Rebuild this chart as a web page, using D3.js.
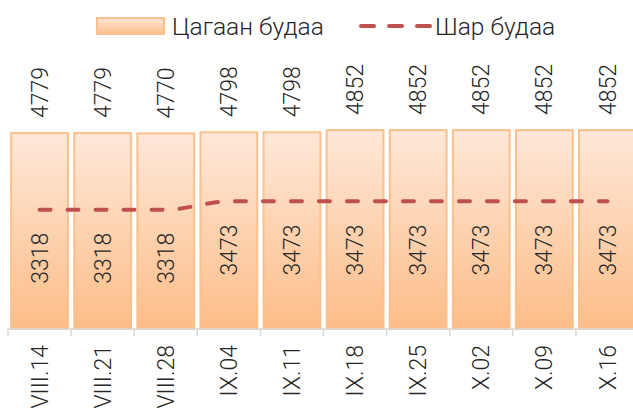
<!DOCTYPE html>
<html>
<head>
  <meta charset="UTF-8">
  <title>Цагаан будаа / Шар будаа</title>
  <style>
    body {
      margin: 0;
      background: #fff;
      overflow: hidden;
    }
    text {
      font-family: Roboto, sans-serif;
      font-weight: 300;
      fill: #262626;
    }
  </style>
</head>
<body>

<svg id="chart"></svg>

<script src="https://d3js.org/d3.v7.min.js"></script>
<script>
const width = 633;
const height = 410;

const categories = ["VIII.14", "VIII.21", "VIII.28", "IX.04", "IX.11", "IX.18", "IX.25", "X.02", "X.09", "X.16"];
const whiteRice = [4779, 4779, 4770, 4798, 4798, 4852, 4852, 4852, 4852, 4852];
const yellowRice = [3318, 3318, 3318, 3473, 3473, 3473, 3473, 3473, 3473, 3473];

const baseY = 329;

const svg = d3.select("#chart")
  .attr("width", width)
  .attr("height", height);

const defs = svg.append("defs");
const grad = defs.append("linearGradient")
  .attr("id", "barFill")
  .attr("x1", 0).attr("y1", 0).attr("x2", 0).attr("y2", 1);
grad.append("stop").attr("offset", "0%").attr("stop-color", "#fee8d9");
grad.append("stop").attr("offset", "100%").attr("stop-color", "#fcbd88");

const x = d3.scaleBand()
  .domain(categories)
  .range([8, 639])
  .paddingInner(0.1)
  .paddingOuter(0.05);

const y = d3.scaleLinear()
  .domain([0, 5000])
  .range([baseY, 124]);

// hidden secondary axis for the line series
const y2 = d3.scaleLinear()
  .domain([1100, 4800])
  .range([baseY, 130]);

// bars
svg.append("g")
  .selectAll("rect")
  .data(whiteRice)
  .join("rect")
  .attr("x", (d, i) => x(categories[i]))
  .attr("y", d => y(d))
  .attr("width", x.bandwidth())
  .attr("height", d => baseY - y(d))
  .attr("fill", "url(#barFill)")
  .attr("stroke", "#fcc08c")
  .attr("stroke-width", 2);

// bar value labels
svg.append("g")
  .selectAll("text")
  .data(whiteRice)
  .join("text")
  .attr("transform", (d, i) => `translate(${x(categories[i]) + x.bandwidth() / 2},${y(d) - 15}) rotate(-90)`)
  .attr("dy", "0.35em")
  .attr("text-anchor", "start")
  .style("font-size", "23px")
  .text(d => d);

// x axis
const xAxis = svg.append("g")
  .attr("transform", `translate(0,${baseY})`);
xAxis.append("line")
  .attr("x1", 8).attr("x2", 639)
  .attr("stroke", "#d9d9d9").attr("stroke-width", 1.5);
xAxis.selectAll("line.tick")
  .data(d3.range(categories.length + 1))
  .join("line")
  .attr("class", "tick")
  .attr("x1", i => 8 + i * x.step())
  .attr("x2", i => 8 + i * x.step())
  .attr("y1", 0).attr("y2", 7)
  .attr("stroke", "#d9d9d9").attr("stroke-width", 1.5);

svg.append("g")
  .selectAll("text")
  .data(categories)
  .join("text")
  .attr("transform", d => `translate(${x(d) + x.bandwidth() / 2},345) rotate(-90)`)
  .attr("dy", "0.35em")
  .attr("text-anchor", "end")
  .style("font-size", "23px")
  .text(d => d);

// line
const line = d3.line()
  .x((d, i) => x(categories[i]) + x.bandwidth() / 2)
  .y(d => y2(d))
  .curve(d3.curveMonotoneX);

svg.append("path")
  .datum(yellowRice)
  .attr("d", line)
  .attr("fill", "none")
  .attr("stroke", "#c0504d")
  .attr("stroke-width", 4)
  .attr("stroke-dasharray", "11,17")
  .attr("stroke-linecap", "round");

// line value labels
svg.append("g")
  .selectAll("text")
  .data(yellowRice)
  .join("text")
  .attr("transform", (d, i) => `translate(${x(categories[i]) + x.bandwidth() / 2},${y2(d) + 23}) rotate(-90)`)
  .attr("dy", "0.35em")
  .attr("text-anchor", "end")
  .style("font-size", "23px")
  .text(d => d);

// legend
const legend = svg.append("g");
legend.append("rect")
  .attr("x", 97).attr("y", 18)
  .attr("width", 67).attr("height", 16)
  .attr("fill", "url(#barFill)")
  .attr("stroke", "#fcc08c")
  .attr("stroke-width", 2);
legend.append("text")
  .attr("x", 172).attr("y", 26)
  .attr("dy", "0.35em")
  .style("font-size", "24.5px")
  .text("Цагаан будаа");
legend.append("line")
  .attr("x1", 361).attr("x2", 430)
  .attr("y1", 26).attr("y2", 26)
  .attr("stroke", "#c0504d")
  .attr("stroke-width", 4)
  .attr("stroke-dasharray", "13,15")
  .attr("stroke-linecap", "round");
legend.append("text")
  .attr("x", 435).attr("y", 26)
  .attr("dy", "0.35em")
  .style("font-size", "24.5px")
  .text("Шар будаа");
</script>

</body>
</html>
